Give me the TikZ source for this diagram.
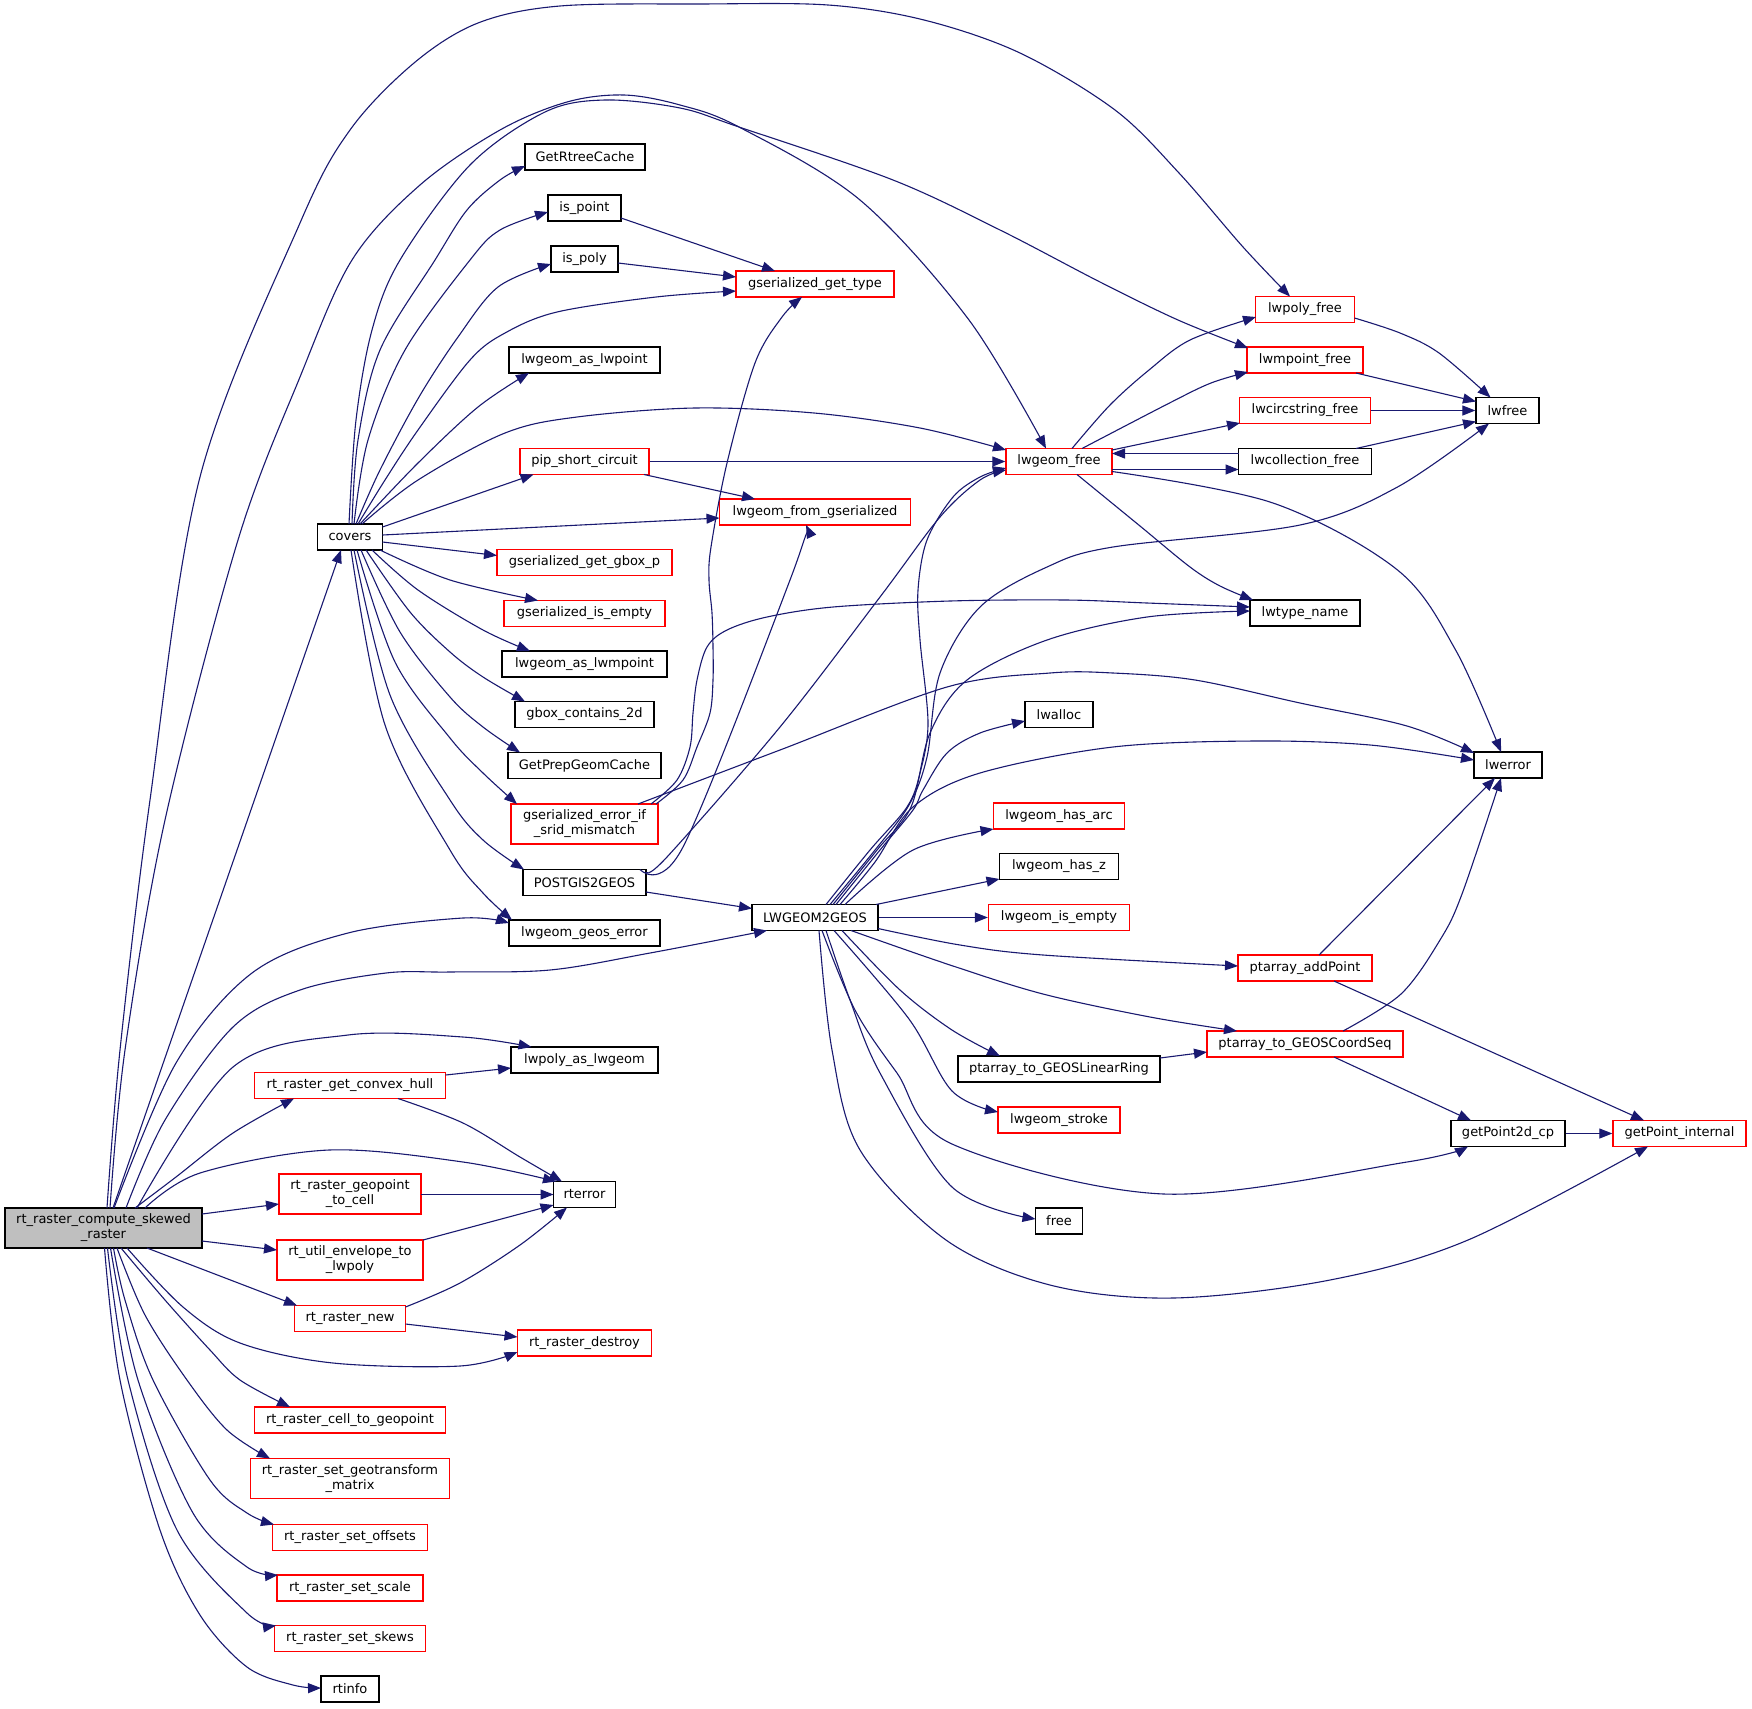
\documentclass[tikz,border=0pt]{standalone}
\usepackage{fontspec}
\setmainfont{DejaVu Sans}
\usetikzlibrary{arrows.meta}
\definecolor{edgec}{HTML}{191970}
\definecolor{nodered}{HTML}{FF0000}
\definecolor{rootfill}{HTML}{BFBFBF}
\begin{document}
\begin{tikzpicture}[x=1pt,y=-1pt,
  nbox/.style={draw=black, line width=1.3pt, fill=white, text=black,
    font=\fontsize{13}{15}\selectfont, inner xsep=2pt, inner ysep=1pt,
    align=center, minimum height=26pt},
  rbox/.style={nbox, draw=nodered},
  cedge/.style={draw=edgec, line width=1.1pt, -{Triangle[length=13pt,width=10pt]}},
  sm/.style={smooth, tension=0.55}]
\fill[white] (0,0) rectangle (1752,1708);
\useasboundingbox (0,0) rectangle (1752,1708);
% ---------------- nodes ----------------
\node[nbox, fill=rootfill, minimum width=197pt, minimum height=40pt] (root) at (103.5,1228) {rt\_raster\_compute\_skewed\\\_raster};
\node[nbox, minimum width=65pt] (covers) at (350,537) {covers};
\node[nbox, minimum width=120pt] (getrtree) at (585,157) {GetRtreeCache};
\node[nbox, minimum width=73pt] (ispoint) at (584.5,208) {is\_point};
\node[nbox, minimum width=67pt] (ispoly) at (584.5,259) {is\_poly};
\node[rbox, minimum width=158pt] (gsgettype) at (815,284) {gserialized\_get\_type};
\node[nbox, minimum width=151pt] (aslwpoint) at (584.5,360) {lwgeom\_as\_lwpoint};
\node[rbox, minimum width=129pt] (pip) at (584.5,461.5) {pip\_short\_circuit};
\node[rbox, minimum width=191pt] (fromgs) at (815,512) {lwgeom\_from\_gserialized};
\node[rbox, minimum width=175pt] (gbox) at (584.5,562.5) {gserialized\_get\_gbox\_p};
\node[rbox, minimum width=161pt] (gsempty) at (584.5,613.5) {gserialized\_is\_empty};
\node[nbox, minimum width=165pt] (aslwmpoint) at (584.5,664) {lwgeom\_as\_lwmpoint};
\node[nbox, minimum width=139pt] (gboxcont) at (584.5,714.5) {gbox\_contains\_2d};
\node[nbox, minimum width=153pt] (prepgeom) at (584.5,765.5) {GetPrepGeomCache};
\node[rbox, minimum width=147pt, minimum height=40pt] (srid) at (584.5,824) {gserialized\_error\_if\\\_srid\_mismatch};
\node[nbox, minimum width=123pt] (pg2geos) at (584.5,882.5) {POSTGIS2GEOS};
\node[nbox, minimum width=151pt] (geoserr) at (584.5,933) {lwgeom\_geos\_error};
\node[nbox, minimum width=126pt] (lw2geos) at (815,917.5) {LWGEOM2GEOS};
\node[nbox, minimum width=147pt] (polyaslw) at (584.5,1060) {lwpoly\_as\_lwgeom};
\node[rbox, minimum width=191pt] (convhull) at (350,1085.5) {rt\_raster\_get\_convex\_hull};
\node[nbox, minimum width=62pt] (rterror) at (584.5,1194.5) {rterror};
\node[rbox, minimum width=142pt, minimum height=40pt] (geocell) at (350,1194) {rt\_raster\_geopoint\\\_to\_cell};
\node[rbox, minimum width=146pt, minimum height=40pt] (envpoly) at (350,1260) {rt\_util\_envelope\_to\\\_lwpoly};
\node[rbox, minimum width=111pt] (rtnew) at (350,1318.5) {rt\_raster\_new};
\node[rbox, minimum width=134pt] (rtdestroy) at (584.5,1343) {rt\_raster\_destroy};
\node[rbox, minimum width=191pt] (cellgeo) at (350,1420) {rt\_raster\_cell\_to\_geopoint};
\node[rbox, minimum width=199pt, minimum height=40pt] (setgeo) at (350,1478.5) {rt\_raster\_set\_geotransform\\\_matrix};
\node[rbox, minimum width=155pt] (setoff) at (350,1537.5) {rt\_raster\_set\_offsets};
\node[rbox, minimum width=146pt] (setscale) at (350,1588) {rt\_raster\_set\_scale};
\node[rbox, minimum width=151pt] (setskews) at (350,1638.5) {rt\_raster\_set\_skews};
\node[nbox, minimum width=58pt] (rtinfo) at (350,1689) {rtinfo};
\node[rbox, minimum width=99pt] (polyfree) at (1305,309.5) {lwpoly\_free};
\node[rbox, minimum width=116pt] (mpointfree) at (1305,360) {lwmpoint\_free};
\node[rbox, minimum width=131pt] (circfree) at (1305,410.5) {lwcircstring\_free};
\node[nbox, minimum width=133pt] (collfree) at (1305,461.5) {lwcollection\_free};
\node[rbox, minimum width=106pt] (lwgfree) at (1059,461.5) {lwgeom\_free};
\node[nbox, minimum width=63pt] (lwfree) at (1507.5,410.5) {lwfree};
\node[nbox, minimum width=110pt] (typename) at (1305,613) {lwtype\_name};
\node[nbox, minimum width=68pt] (lwalloc) at (1059,714.5) {lwalloc};
\node[nbox, minimum width=68pt] (lwerror) at (1508,765) {lwerror};
\node[rbox, minimum width=131pt] (hasarc) at (1059,816) {lwgeom\_has\_arc};
\node[nbox, minimum width=119pt] (hasz) at (1059,866.5) {lwgeom\_has\_z};
\node[rbox, minimum width=141pt] (isempty) at (1059,917.5) {lwgeom\_is\_empty};
\node[rbox, minimum width=134pt] (addpoint) at (1305,968) {ptarray\_addPoint};
\node[rbox, minimum width=196pt] (coordseq) at (1305,1044) {ptarray\_to\_GEOSCoordSeq};
\node[nbox, minimum width=202pt] (linring) at (1059,1069) {ptarray\_to\_GEOSLinearRing};
\node[rbox, minimum width=122pt] (stroke) at (1059,1120) {lwgeom\_stroke};
\node[nbox, minimum width=114pt] (p2dcp) at (1508,1133.5) {getPoint2d\_cp};
\node[rbox, minimum width=133pt] (pinternal) at (1679.5,1133.5) {getPoint\_internal};
\node[nbox, minimum width=47pt] (free) at (1059,1221) {free};
% ---------------- edges from root ----------------
\draw[cedge] plot[sm] coordinates {([shift={(3.5,-20)}]root.center) (120,1050) (150,800) (200,477) (300,223) (350,130) (414,63) (478,23) (560,6) (700,4) (828,5) (924,20) (1020,53) (1115,110) (1179,173) (1243,247) ([shift={(-15,-13)}]polyfree.center)};
\draw[cedge] plot[sm] coordinates {([shift={(6.5,-20)}]root.center) (125,1050) (165,820) (238,540) (300,377) (352,260) (420,185) (500,130) (567,102) (624,95) (680,105) (739,127) (860,200) (969,320) ([shift={(-13,-13)}]lwgfree.center)};
\draw[cedge] ([shift={(9.5,-20)}]root.center) -- ([shift={(-9,13)}]covers.center);
\draw[cedge] plot[sm] coordinates {([shift={(22.5,-20)}]root.center) (165,1120) (233,1027) (300,990) (386,973) (450,972) (550,970) (650,953) ([shift={(-48,13)}]lw2geos.center)};
\draw[cedge] plot[sm] coordinates {([shift={(10.5,-20)}]root.center) (176,1063) (252,973) (348,933) (463,918) ([shift={(-75.5,-10)}]geoserr.center)};
\draw[cedge] plot[sm] coordinates {([shift={(33.5,-20)}]root.center) (233,1067) (348,1035) (463,1037) ([shift={(-53,-13)}]polyaslw.center)};
\draw[cedge] plot[sm] coordinates {([shift={(31.5,-20)}]root.center) (176,1177) (233,1133) ([shift={(-56,13)}]convhull.center)};
\draw[cedge] plot[sm] coordinates {([shift={(41.5,-20)}]root.center) (200,1173) (329,1150) (463,1162) ([shift={(-28.5,-13)}]rterror.center)};
\draw[cedge] ([shift={(98.5,-14)}]root.center) -- ([shift={(-71,10)}]geocell.center);
\draw[cedge] ([shift={(98.5,13)}]root.center) -- ([shift={(-73,-10)}]envpoly.center);
\draw[cedge] ([shift={(43.5,20)}]root.center) -- ([shift={(-53,-13)}]rtnew.center);
\draw[cedge] plot[sm] coordinates {([shift={(23.5,20)}]root.center) (183,1307) (240,1343) (333,1363) (460,1366) ([shift={(-67,9)}]rtdestroy.center)};
\draw[cedge] plot[sm] coordinates {([shift={(17.5,20)}]root.center) (165,1300) (210,1350) (240,1380) ([shift={(-60,-13)}]cellgeo.center)};
\draw[cedge] plot[sm] coordinates {([shift={(13.5,20)}]root.center) (145,1315) (187,1380) (227,1430) ([shift={(-80,-20)}]setgeo.center)};
\draw[cedge] plot[sm] coordinates {([shift={(10,20)}]root.center) (125,1300) (153,1380) (210,1480) (247,1513) ([shift={(-76,-13)}]setoff.center)};
\draw[cedge] plot[sm] coordinates {([shift={(7,20)}]root.center) (138,1380) (193,1513) (247,1567) ([shift={(-72,-13)}]setscale.center)};
\draw[cedge] plot[sm] coordinates {([shift={(4,20)}]root.center) (128,1380) (177,1530) (247,1613) ([shift={(-74,-13)}]setskews.center)};
\draw[cedge] plot[sm] coordinates {([shift={(1,20)}]root.center) (120,1380) (160,1530) (200,1615) (247,1667) (293,1685) ([shift={(-29,-1)}]rtinfo.center)};
% ---------------- edges from covers ----------------
\draw[cedge] plot[sm] coordinates {([shift={(2,-13)}]covers.center) (358,440) (380,350) (435,260) (467,210) (500,180) ([shift={(-60,9)}]getrtree.center)};
\draw[cedge] plot[sm] coordinates {([shift={(4,-13)}]covers.center) (368,440) (405,350) (470,260) (500,230) ([shift={(-36.5,4)}]ispoint.center)};
\draw[cedge] plot[sm] coordinates {([shift={(6,-13)}]covers.center) (380,470) (419,397) (458,337) (498,287) ([shift={(-33.5,5)}]ispoly.center)};
\draw[cedge] plot[sm] coordinates {([shift={(8,-13)}]covers.center) (385,480) (418,430) (470,360) (505,333) (557,312) (656,297) ([shift={(-79,7)}]gsgettype.center)};
\draw[cedge] plot[sm] coordinates {([shift={(10,-13)}]covers.center) (418,463) (478,407) ([shift={(-55.5,13)}]aslwpoint.center)};
\draw[cedge] plot[sm] coordinates {([shift={(12,-13)}]covers.center) (418,480) (505,433) (577,417) (695,408) (814,413) (920,428) ([shift={(-53,-11.5)}]lwgfree.center)};
\draw[cedge] ([shift={(32.5,-10)}]covers.center) -- ([shift={(-51,13)}]pip.center);
\draw[cedge] ([shift={(32.5,-2)}]covers.center) -- ([shift={(-95.5,6)}]fromgs.center);
\draw[cedge] ([shift={(32.5,5)}]covers.center) -- ([shift={(-87.5,-7)}]gbox.center);
\draw[cedge] plot[sm] coordinates {([shift={(30,13)}]covers.center) (450,580) ([shift={(-46.5,-13)}]gsempty.center)};
\draw[cedge] plot[sm] coordinates {([shift={(22,13)}]covers.center) (418,590) (483,630) ([shift={(-54.5,-13)}]aslwmpoint.center)};
\draw[cedge] plot[sm] coordinates {([shift={(16,13)}]covers.center) (410,612) (450,652) (483,677) ([shift={(-59.5,-13)}]gboxcont.center)};
\draw[cedge] plot[sm] coordinates {([shift={(11,13)}]covers.center) (400,632) (450,697) (483,727) ([shift={(-64.5,-13)}]prepgeom.center)};
\draw[cedge] plot[sm] coordinates {([shift={(7,13)}]covers.center) (395,662) (450,738) (483,773) ([shift={(-67.5,-20)}]srid.center)};
\draw[cedge] plot[sm] coordinates {([shift={(4,13)}]covers.center) (390,695) (450,800) (483,840) ([shift={(-60.5,-13)}]pg2geos.center)};
\draw[cedge] plot[sm] coordinates {([shift={(1,13)}]covers.center) (385,725) (450,850) (483,893) ([shift={(-72.5,-13)}]geoserr.center)};
\draw[cedge] plot[sm] coordinates {([shift={(-1,-13)}]covers.center) (356,420) (372,330) (400,260) (470,165) (545,112) (605,100) (680,108) (739,127) (893,180) (1000,230) (1100,282) (1178,320) ([shift={(-57,-12)}]mpointfree.center)};
% ---------------- middle column ----------------
\draw[cedge] ([shift={(36.5,10)}]ispoint.center) -- ([shift={(-40,-13)}]gsgettype.center);
\draw[cedge] ([shift={(33.5,4)}]ispoly.center) -- ([shift={(-79,-7)}]gsgettype.center);
\draw[cedge] (pip.east) -- (lwgfree.west);
\draw[cedge] ([shift={(59.5,13)}]pip.center) -- ([shift={(-60,-13)}]fromgs.center);
\draw[cedge] plot[sm] coordinates {([shift={(71.5,-20)}]srid.center) (683,780) (697,747) (710,713) (713,680) (713,647) (712,613) (709,580) (711,547) (727,463) (755,363) (782,317) ([shift={(-13,13)}]gsgettype.center)};
\draw[cedge] plot[sm] coordinates {([shift={(66.5,-20)}]srid.center) (677,780) (690,747) (693,713) (697,680) (707,647) (727,630) (767,617) (833,607) (950,601) (1066,600) (1147,603) ([shift={(-55,-6)}]typename.center)};
\draw[cedge] plot[sm] coordinates {([shift={(53.5,-20)}]srid.center) (780,750) (947,687) (1050,673) (1113,673) (1195,680) (1300,703) (1407,726) ([shift={(-34,-12)}]lwerror.center)};
\draw[cedge] plot[sm] coordinates {([shift={(55.5,-13)}]pg2geos.center) (683,847) (790,580) ([shift={(-9,13)}]fromgs.center)};
\draw[cedge] plot[sm] coordinates {([shift={(61.5,-10.5)}]pg2geos.center) (667,857) (780,727) (880,597) (940,517) (980,480) ([shift={(-53,8.5)}]lwgfree.center)};
\draw[cedge] ([shift={(61.5,9.5)}]pg2geos.center) -- ([shift={(-63,-9)}]lw2geos.center);
% ---------------- lwgeom_free ----------------
\draw[cedge] plot[sm] coordinates {([shift={(13,-13)}]lwgfree.center) (1110,405) (1149,370) (1190,340) ([shift={(-49,7.5)}]polyfree.center)};
\draw[cedge] plot[sm] coordinates {([shift={(23,-13)}]lwgfree.center) (1169.5,403) (1211,383) ([shift={(-57,12)}]mpointfree.center)};
\draw[cedge] ([shift={(53,-11.5)}]lwgfree.center) -- ([shift={(-65,12.5)}]circfree.center);
\draw[cedge] ([shift={(53,8)}]lwgfree.center) -- ([shift={(-66.5,8)}]collfree.center);
\draw[cedge] ([shift={(-66.5,-8)}]collfree.center) -- ([shift={(53,-8)}]lwgfree.center);
\draw[cedge] plot[sm] coordinates {([shift={(18,13)}]lwgfree.center) (1140,526) (1190,567) (1220,586) ([shift={(-52,-13)}]typename.center)};
\draw[cedge] plot[sm] coordinates {([shift={(53,10)}]lwgfree.center) (1273,503) (1397.5,570) (1455.6,650) ([shift={(-7,-13)}]lwerror.center)};
% ---------------- LWGEOM2GEOS ----------------
\draw[cedge] plot[sm] coordinates {([shift={(11,-13)}]lw2geos.center) (870,850) (907,807) (920,773) (928,723) (920,640) (918,590) (927,540) (953,497) (980,477) ([shift={(-53,6.5)}]lwgfree.center)};
\draw[cedge] plot[sm] coordinates {([shift={(15,-13)}]lw2geos.center) (875,850) (909,805) (927,757) (940,673) (980,607) (1047,567) (1113,547) (1300,525) (1397.5,487) ([shift={(-18.5,13)}]lwfree.center)};
\draw[cedge] plot[sm] coordinates {([shift={(18,-13)}]lw2geos.center) (877,850) (911,807) (930,733) (967,680) (1047,640) (1147,617) ([shift={(-55,-2)}]typename.center)};
\draw[cedge] plot[sm] coordinates {([shift={(21,-13)}]lw2geos.center) (880,850) (913,810) (923,790) (947,753) (980,733) ([shift={(-34,6.5)}]lwalloc.center)};
\draw[cedge] plot[sm] coordinates {([shift={(25,-13)}]lw2geos.center) (875,862) (913,807) (980,773) (1113,747) (1255,741) (1370,745) ([shift={(-34,-5)}]lwerror.center)};
\draw[cedge] plot[sm] coordinates {([shift={(30,-13)}]lw2geos.center) (913,850) ([shift={(-65.5,13)}]hasarc.center)};
\draw[cedge] ([shift={(61,-13)}]lw2geos.center) -- ([shift={(-59.5,12.5)}]hasz.center);
\draw[cedge] (lw2geos.east) -- (isempty.west);
\draw[cedge] plot[sm] coordinates {([shift={(63,11)}]lw2geos.center) (960,945) (1043,955) ([shift={(-67,-2)}]addpoint.center)};
\draw[cedge] plot[sm] coordinates {([shift={(36,13)}]lw2geos.center) (950,965) (1043,994) (1150,1017) ([shift={(-68,-13)}]coordseq.center)};
\draw[cedge] plot[sm] coordinates {([shift={(27,13)}]lw2geos.center) (900,990) (952,1030) ([shift={(-59,-13)}]linring.center)};
\draw[cedge] plot[sm] coordinates {([shift={(19,13)}]lw2geos.center) (909,1019) (952,1091) ([shift={(-61,-8)}]stroke.center)};
\draw[cedge] plot[sm] coordinates {([shift={(11,13)}]lw2geos.center) (850,1000) (880,1073) (952,1187) ([shift={(-23.5,-2)}]free.center)};
\draw[cedge] plot[sm] coordinates {([shift={(7,13)}]lw2geos.center) (855,1010) (897,1073) (952,1144) (1164,1194) (1407,1162) ([shift={(-40,13)}]p2dcp.center)};
\draw[cedge] plot[sm] coordinates {([shift={(4,13)}]lw2geos.center) (832,1050) (860,1150) (946,1240) (1050,1285) (1173,1298) (1330,1280) (1468,1240) ([shift={(-31.5,13)}]pinternal.center)};
% ---------------- ptarray etc ----------------
\draw[cedge] ([shift={(14,-13)}]addpoint.center) -- ([shift={(-13,13)}]lwerror.center);
\draw[cedge] ([shift={(29,13)}]addpoint.center) -- ([shift={(-35.5,-13)}]pinternal.center);
\draw[cedge] plot[sm] coordinates {([shift={(38,-13)}]coordseq.center) (1401,994) (1440,940) (1462,894) ([shift={(-7,13)}]lwerror.center)};
\draw[cedge] ([shift={(29,13)}]coordseq.center) -- ([shift={(-37,-13)}]p2dcp.center);
\draw[cedge] ([shift={(101,-11)}]linring.center) -- ([shift={(-98,8)}]coordseq.center);
\draw[cedge] (p2dcp.east) -- (pinternal.west);
% ---------------- raster helpers ----------------
\draw[cedge] ([shift={(95.5,-10.5)}]convhull.center) -- ([shift={(-73.5,8)}]polyaslw.center);
\draw[cedge] plot[sm] coordinates {([shift={(48,13)}]convhull.center) (463,1123) (520,1157) ([shift={(-22.5,-13)}]rterror.center)};
\draw[cedge] ([shift={(71,0.5)}]geocell.center) -- ([shift={(-31,0)}]rterror.center);
\draw[cedge] ([shift={(73,-20)}]envpoly.center) -- ([shift={(-31,10.5)}]rterror.center);
\draw[cedge] plot[sm] coordinates {([shift={(55.5,-11.5)}]rtnew.center) (460,1283) (520,1245) ([shift={(-17.5,13)}]rterror.center)};
\draw[cedge] ([shift={(55.5,5.5)}]rtnew.center) -- ([shift={(-67,-6)}]rtdestroy.center);
% ---------------- free functions ----------------
\draw[cedge] plot[sm] coordinates {([shift={(49.5,8.5)}]polyfree.center) (1400,333) (1439,353) ([shift={(-17,-13)}]lwfree.center)};
\draw[cedge] ([shift={(51,13)}]mpointfree.center) -- ([shift={(-31.5,-9)}]lwfree.center);
\draw[cedge] (circfree.east) -- (lwfree.west);
\draw[cedge] ([shift={(51,-13)}]collfree.center) -- ([shift={(-31.5,11)}]lwfree.center);
\end{tikzpicture}
\end{document}
